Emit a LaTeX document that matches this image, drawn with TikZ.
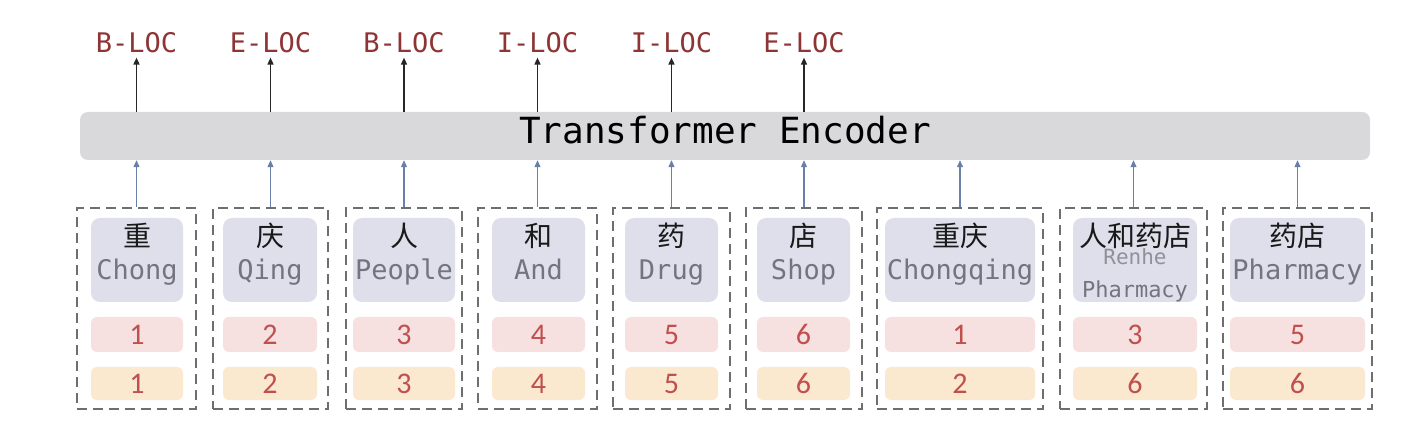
\documentclass[tikz,border=0pt]{standalone}
\usepackage{fontspec}
\setmonofont{DejaVu Sans Mono}
\newfontfamily\cjk{Noto Sans CJK SC}
\newfontfamily\numfont{Carlito}
\usetikzlibrary{arrows.meta}
\definecolor{barcol}{HTML}{D9D9DB}
\definecolor{lav}{HTML}{DFDFEC}
\definecolor{pinkc}{HTML}{F7E0E0}
\definecolor{orac}{HTML}{FAE8CF}
\definecolor{numc}{HTML}{C0504D}
\definecolor{engc}{HTML}{74747E}
\definecolor{labc}{HTML}{8E3434}
\definecolor{bluec}{HTML}{6A7FA8}
\definecolor{dashc}{HTML}{6E6E6E}
\tikzset{
  dbox/.style={draw=dashc, line width=2.4pt, dash pattern=on 10pt off 6pt, inner sep=0pt},
  tokbg/.style={fill=lav, rounded corners=9pt, minimum height=84pt, inner sep=0pt},
  posa/.style={fill=pinkc, rounded corners=6pt, minimum height=35pt, inner sep=0pt, text=numc, font=\numfont\fontsize{30}{32}\selectfont},
  posb/.style={fill=orac, rounded corners=6pt, minimum height=33pt, inner sep=0pt, text=numc, font=\numfont\fontsize{30}{32}\selectfont},
  cnt/.style={anchor=base, inner sep=0pt, font=\cjk\fontsize{28}{30}\selectfont, text=black!90},
  ent/.style={anchor=base, inner sep=0pt, font=\ttfamily\fontsize{27}{30}\selectfont, text=engc},
  lab/.style={anchor=base, inner sep=0pt, font=\ttfamily\fontsize{27}{30}\selectfont, text=labc},
  uparr/.style={line width=1.5pt, draw=black!85, -{Triangle[width=6pt,length=7pt]}},
  inarr/.style={line width=1.2pt, draw=bluec, -{Triangle[width=6pt,length=7pt]}},
}
\newcommand\tokbox[9]{%
  \pgfmathsetmacro\bc{(#2+#3)/2}\pgfmathsetmacro\bw{#3-#2}%
  \pgfmathsetmacro\ic{(#4+#5)/2}\pgfmathsetmacro\iw{#5-#4}%
  \node[dbox, minimum width=\bw pt, minimum height=201pt] (#1) at (\bc,308.5) {};
  \node[tokbg, minimum width=\iw pt] (#1t) at (\ic,260) {};
  \node[cnt] (#1c) at (\ic,247) {#6};
  \node[ent] (#1e) at (\ic,280) {#7};
  \node[posa, minimum width=\iw pt] (#1p) at (\ic,334.5) {#8};
  \node[posb, minimum width=\iw pt] (#1q) at (\ic,383.5) {#9};
  \draw[inarr] (#1.north) -- (#1.north |- enc.south);
}
\begin{document}
\begin{tikzpicture}[x=1pt,y=-1pt]
\useasboundingbox (0,0) rectangle (1406,438);
\node[fill=barcol, rounded corners=8pt, minimum width=1290pt, minimum height=48pt, inner sep=0pt] (enc) at (725,136) {};
\node[anchor=base, inner sep=0pt, font=\ttfamily\fontsize{36}{38}\selectfont] (enct) at (725,144) {Transformer Encoder};
\tokbox{b1}{77}{196}{91}{183}{重}{Chong}{1}{1}
\tokbox{b2}{213}{328}{223}{317}{庆}{Qing}{2}{2}
\tokbox{b3}{346}{462}{353}{455}{人}{People}{3}{3}
\tokbox{b4}{478}{597}{492}{585}{和}{And}{4}{4}
\tokbox{b5}{613}{730}{625}{718}{药}{Drug}{5}{5}
\tokbox{b6}{746}{862}{757}{850}{店}{Shop}{6}{6}
\tokbox{b7}{877}{1043}{885}{1035}{重庆}{Chongqing}{1}{2}
\tokbox{b8}{1060}{1207}{1073}{1197}{人和药店}{}{3}{6}
\tokbox{b9}{1223}{1372}{1230}{1365}{药店}{Pharmacy}{5}{6}
\node[anchor=base, inner sep=0pt, font=\ttfamily\fontsize{21}{24}\selectfont, text=engc!80] (b8r) at (1135,265) {Renhe};
\node[anchor=base, inner sep=0pt, font=\ttfamily\fontsize{22}{24}\selectfont, text=engc] (b8s) at (1135,298) {Pharmacy};
\node[lab] (l1) at (136.5,53) {B-LOC};
\node[lab] (l2) at (270.5,53) {E-LOC};
\node[lab] (l3) at (404,53) {B-LOC};
\node[lab] (l4) at (537.5,53) {I-LOC};
\node[lab] (l5) at (671.5,53) {I-LOC};
\node[lab] (l6) at (804,53) {E-LOC};
\foreach \i in {1,...,6}{
  \draw[uparr] (l\i |- enc.north) -- ([yshift=-4pt]l\i.south);
}
\end{tikzpicture}
\end{document}
